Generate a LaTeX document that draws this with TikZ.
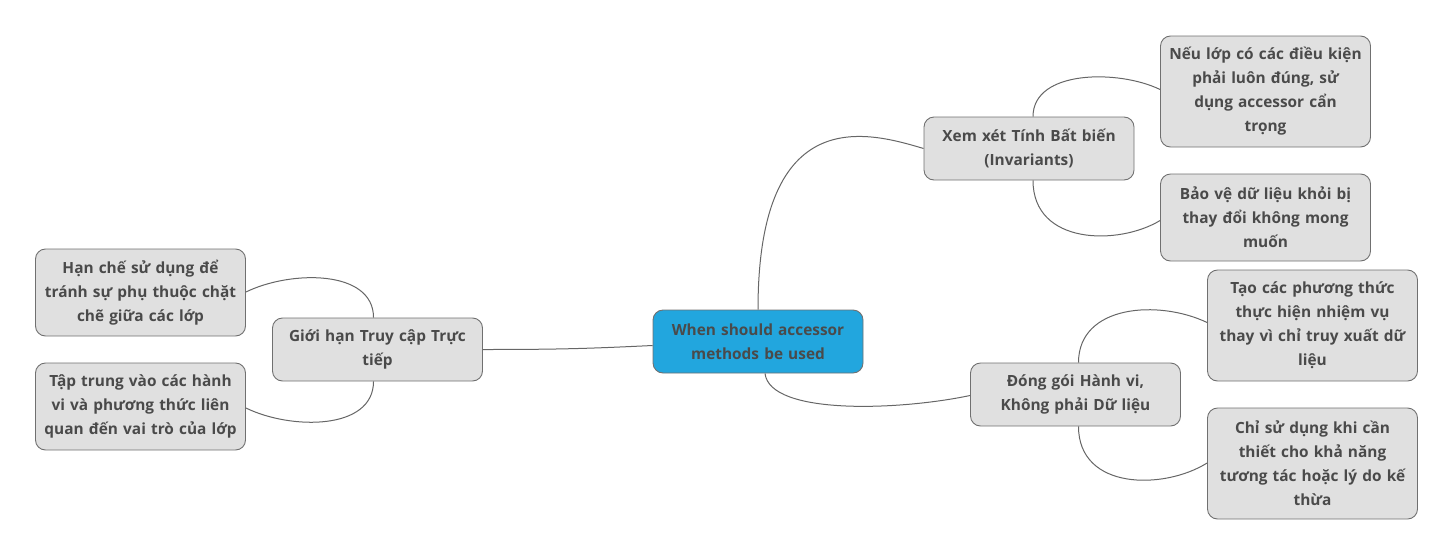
\documentclass[tikz,border=0pt]{standalone}
\usepackage{fontspec}
\setmainfont{Open Sans}
\definecolor{txt}{HTML}{4A4A4A}
\definecolor{bord}{HTML}{707070}
\definecolor{boxfill}{HTML}{E0E0E0}
\definecolor{rootfill}{HTML}{22A6DE}
\definecolor{edge}{HTML}{666666}
\begin{document}
\begin{tikzpicture}[x=1pt,y=-1pt,
  box/.style={draw=bord, line width=0.9pt, fill=boxfill, rounded corners=10pt,
    minimum width=210pt, text width=204pt, align=center, inner sep=0pt,
    font=\fontsize{15.4}{24}\selectfont\bfseries, text=txt},
  rootbox/.style={box, fill=rootfill},
  conn/.style={draw=edge, line width=1pt}]
\useasboundingbox (0,0) rectangle (1455,557);
\node[rootbox, minimum height=63pt] (root) at (758,341.5) {When should accessor\\methods be used};
\node[box, minimum height=63pt] (xem) at (1029,148.5) {Xem xét Tính Bất biến\\(Invariants)};
\node[box, minimum height=111pt] (neu) at (1265.5,91.5) {Nếu lớp có các điều kiện\\phải luôn đúng, sử\\dụng accessor cẩn\\trọng};
\node[box, minimum height=87pt] (bao) at (1265.5,217.5) {Bảo vệ dữ liệu khỏi bị\\thay đổi không mong\\muốn};
\node[box, minimum height=63pt] (dong) at (1075.5,394.5) {Đóng gói Hành vi,\\Không phải Dữ liệu};
\node[box, minimum height=111pt] (tao) at (1312.5,325.5) {Tạo các phương thức\\thực hiện nhiệm vụ\\thay vì chỉ truy xuất dữ\\liệu};
\node[box, minimum height=111pt] (chi) at (1312.5,463.5) {Chỉ sử dụng khi cần\\thiết cho khả năng\\tương tác hoặc lý do kế\\thừa};
\node[box, minimum height=63pt] (gioi) at (377.5,349.5) {Giới hạn Truy cập Trực\\tiếp};
\node[box, minimum height=87pt] (han) at (140.5,292.5) {Hạn chế sử dụng để\\tránh sự phụ thuộc chặt\\chẽ giữa các lớp};
\node[box, minimum height=87pt] (tap) at (140.5,406.5) {Tập trung vào các hành\\vi và phương thức liên\\quan đến vai trò của lớp};
\path[conn] (root.north) .. controls +(0,-210) and +(-54,-16) .. (xem.west);
\path[conn] ([xshift=7pt]root.south) .. controls +(5,42) and +(-71,15) .. ([yshift=-1pt]dong.west);
\path[conn] ([yshift=-4pt]root.west) .. controls +(-63,3) and +(78,0) .. (gioi.east);
\path[conn] ([xshift=4pt]xem.north) .. controls +(0,-47) and +(-41,-20) .. ([yshift=2pt]neu.west);
\path[conn] ([xshift=4pt]xem.south) .. controls +(0,65) and +(-41,25) .. ([yshift=-3pt]bao.west);
\path[conn] ([xshift=3pt]dong.north) .. controls +(0,-58) and +(-48,-23) .. ([yshift=3pt]tao.west);
\path[conn] ([xshift=3pt]dong.south) .. controls +(0,64) and +(-43,27) .. ([yshift=0.5pt]chi.west);
\path[conn] ([xshift=-4pt]gioi.north) .. controls +(0,-48) and +(45,-22) .. ([yshift=0.5pt]han.east);
\path[conn] ([xshift=-4pt]gioi.south) .. controls +(0,49) and +(45,22) .. ([yshift=-1.5pt]tap.east);
\end{tikzpicture}
\end{document}
